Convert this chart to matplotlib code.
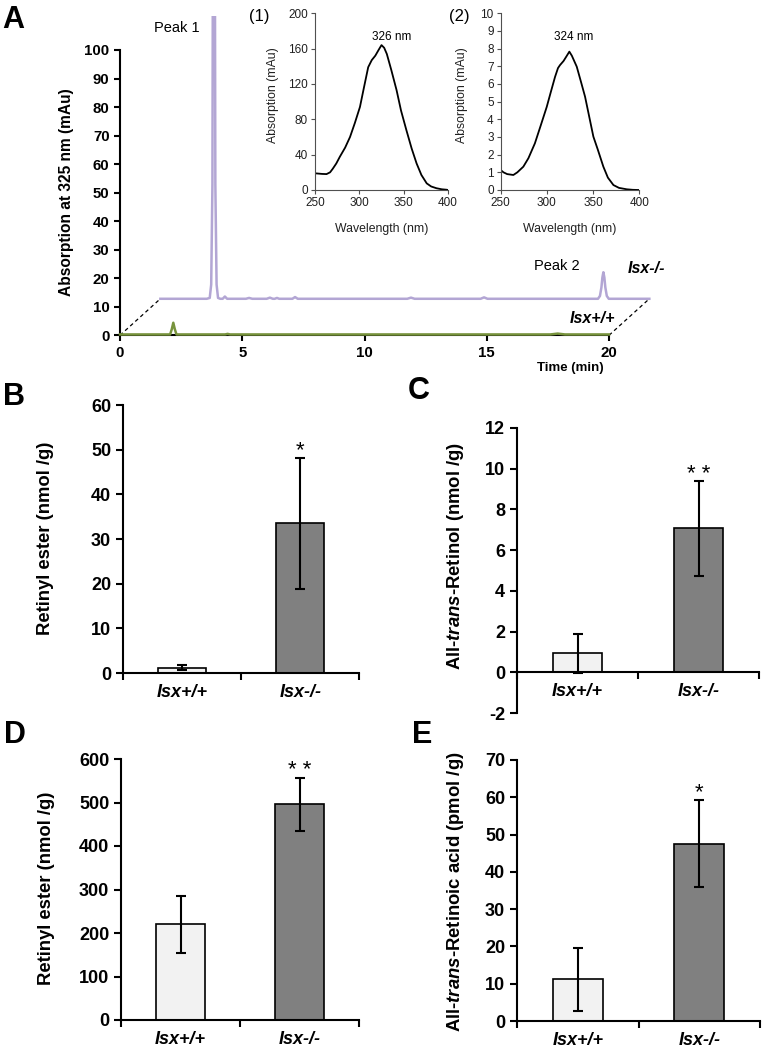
import matplotlib
matplotlib.use("Agg")
import matplotlib.pyplot as plt
import numpy as np

plt.rcParams['font.family'] = ['Liberation Sans', 'DejaVu Sans']
plt.rcParams['axes.unicode_minus'] = False
plt.rcParams['mathtext.fontset'] = 'custom'
plt.rcParams['mathtext.rm'] = 'Liberation Sans:bold'
plt.rcParams['mathtext.bf'] = 'Liberation Sans:bold'
plt.rcParams['mathtext.it'] = 'Liberation Sans:bold:italic'

# ---- data: HPLC traces (time in min, absorbance in mAu) ----
ko_t = [0, 1.9, 2.02, 2.08, 2.13, 2.19, 2.25, 2.30, 2.36, 2.45, 2.55, 2.64, 2.73,
        3.5, 3.63, 3.76, 4.35, 4.48, 4.6, 4.68, 4.77, 4.86, 5.4, 5.51, 5.62,
        10.1, 10.25, 10.4, 13.1, 13.24, 13.38,
        17.9, 17.98, 18.04, 18.08, 18.12, 18.16, 18.20, 18.26, 18.34, 20.0]
ko_y = [0, 0, 0.3, 5, 40, 300, 40, 5, 0.3, 0, 0, 0.8, 0,
        0, 0.3, 0, 0, 0.4, 0, 0, 0.3, 0, 0, 0.6, 0,
        0, 0.4, 0, 0, 0.5, 0,
        0, 1, 4, 7.5, 9.3, 7.5, 4, 1, 0, 0]
wt_t = [0, 2.05, 2.12, 2.18, 2.24, 2.31, 4.3, 4.4, 4.5, 17.6, 17.9, 18.2, 20.0]
wt_y = [0.3, 0.3, 2.2, 4.4, 2.2, 0.3, 0.3, 0.5, 0.3, 0.3, 0.6, 0.3, 0.3]

# ---- data: UV spectra of peak 1 and peak 2 ----
spec1_nm = [250, 258, 263, 267, 270, 274, 278, 284, 289.5, 295, 300.7, 305, 310, 314,
            318, 322, 325, 328, 331, 336, 342, 347, 353, 359, 364.6, 370, 376, 381,
            387, 393, 398.5, 400]
spec1_y = [18.9, 18.2, 18, 20, 24, 30, 37.6, 48, 60, 76, 94, 115, 139, 147,
           152, 159, 164, 161, 154, 136, 113, 90, 68, 47, 30, 17, 7.5, 4,
           2, 0.8, 0.3, 0]
spec2_nm = [250, 253, 257, 263.7, 268, 274.5, 280, 287, 293, 299.8, 304, 308.8, 312,
            314.2, 318, 321, 324.3, 327, 332.3, 337, 341.3, 346, 350.3, 355, 361.1,
            366, 372, 378, 386.4, 393, 400]
spec2_y = [1.13, 1.0, 0.9, 0.85, 1.0, 1.32, 1.8, 2.64, 3.6, 4.7, 5.5, 6.4, 6.9,
           7.07, 7.3, 7.55, 7.83, 7.6, 6.98, 6.1, 5.28, 4.1, 3.02, 2.3, 1.32,
           0.7, 0.28, 0.12, 0.04, 0.01, 0]

# ---- data: bar panels ----
genotypes = ['Isx+/+', 'Isx-/-']
b_mean = [1.2, 33.5]
b_err = [0.6, 14.7]
c_mean = [0.93, 7.07]
c_err = [0.97, 2.32]
d_mean = [220, 496]
d_err = [66, 61]
e_mean = [11.2, 47.6]
e_err = [8.5, 11.7]

W, H = 762, 1051
fig = plt.figure(figsize=(W / 100, H / 100), dpi=100)


def px_axes(left, top, right, bottom):
    return fig.add_axes([left / W, 1 - bottom / H, (right - left) / W, (bottom - top) / H])


def px_text(x, y, s, **kw):
    return fig.text(x / W, 1 - y / H, s, **kw)


# ---------------- panel A: chromatogram ----------------
dx, dy = 1.65, 12.8
ax = px_axes(120, 335.3 - 112 * 2.853, 120 + 23 * 24.45, 335.3)
ax.set_facecolor('none')
ax.plot(np.array(wt_t), np.array(wt_y), color='#77933c', lw=1.8, zorder=4, clip_on=False)
ax.plot(np.array(ko_t) + dx, np.array(ko_y) + dy, color='#b3a6d4', lw=1.8, zorder=4)
ax.plot([0, dx], [0, dy], color='black', lw=0.9, dashes=(3, 2.5))
ax.plot([20, 20 + dx], [0, dy], color='black', lw=0.9, dashes=(3, 2.5))
ax.set_xlim(0, 23)
ax.set_ylim(0, 112)
for s in ['top', 'right']:
    ax.spines[s].set_visible(False)
ax.spines['left'].set_bounds(0, 100)
ax.spines['bottom'].set_bounds(0, 20)
for s in ['left', 'bottom']:
    ax.spines[s].set_linewidth(1.5)
ax.set_xticks([0, 5, 10, 15, 20])
ax.set_yticks(range(0, 101, 10))
ax.tick_params(direction='out', length=4, width=1.5, labelsize=10.8)
for lab in ax.get_xticklabels() + ax.get_yticklabels():
    lab.set_fontweight('bold')
px_text(66, 192.5, 'Absorption at 325 nm (mAu)', rotation=90, ha='center', va='center',
        fontsize=11.2, fontweight='bold')
px_text(570, 368, 'Time (min)', ha='center', va='center', fontsize=9.5, fontweight='bold')
px_text(177, 32, 'Peak 1', ha='center', va='baseline', fontsize=10.5)
px_text(557, 270, 'Peak 2', ha='center', va='baseline', fontsize=10.5)
px_text(628, 273, 'Isx-/-', ha='left', va='baseline', fontsize=11.5,
        fontweight='bold', fontstyle='italic')
px_text(570, 323, 'Isx+/+', ha='left', va='baseline', fontsize=11.5,
        fontweight='bold', fontstyle='italic')


# ---------------- insets: spectra ----------------
def spectrum(box, nm, vals, ymax, ystep, tag, tag_x, peak_txt, peak_x, ylab_x):
    a = px_axes(*box)
    a.set_facecolor('none')
    a.plot(nm, vals, color='black', lw=1.3)
    a.set_xlim(250, 400)
    a.set_ylim(0, ymax)
    a.set_xticks([250, 300, 350, 400])
    a.set_yticks(np.arange(0, ymax + 0.1, ystep))
    for s in ['top', 'right']:
        a.spines[s].set_visible(False)
    for s in ['left', 'bottom']:
        a.spines[s].set_color('#505050')
        a.spines[s].set_linewidth(0.8)
    a.tick_params(direction='out', length=3, width=0.8, color='#505050',
                  labelsize=8.5, pad=2, labelcolor='#202020')
    px_text(ylab_x, 95, 'Absorption (mAu)', rotation=90, ha='center', va='center',
            fontsize=8.8, color='#202020')
    px_text((box[0] + box[2]) / 2, 229, 'Wavelength (nm)', ha='center', va='center',
            fontsize=8.8, color='#202020')
    px_text(tag_x, 21, tag, ha='left', va='baseline', fontsize=12)
    px_text(peak_x, 40.5, peak_txt, ha='center', va='baseline', fontsize=8.5)


spectrum((315, 13.3, 448, 190), spec1_nm, spec1_y, 200, 40, '(1)', 249, '326 nm', 392, 273)
spectrum((500.7, 13.3, 639.3, 190), spec2_nm, spec2_y, 10, 1, '(2)', 449, '324 nm', 573.5, 462)


# ---------------- bar panels ----------------
def bar_panel(box, means, errs, ylim, ystep, ylabel, ylab_x, ylab_y, stars, zero_axis=False):
    a = px_axes(*box)
    a.bar([0.5, 1.5], means, width=0.41, color=['#f2f2f2', '#808080'],
          edgecolor='black', linewidth=1.2, yerr=errs, capsize=3.5,
          error_kw=dict(elinewidth=1.5, capthick=1.5, ecolor='black'))
    a.set_xlim(0, 2)
    a.set_ylim(*ylim)
    for s in ['top', 'right']:
        a.spines[s].set_visible(False)
    for s in ['left', 'bottom']:
        a.spines[s].set_linewidth(1.5)
    if zero_axis:
        a.spines['bottom'].set_position(('data', 0))
    a.set_yticks(np.arange(ylim[0], ylim[1] + 0.001, ystep))
    a.set_xticks([0, 1, 2])
    a.set_xticklabels([])
    a.set_xticks([0.5, 1.5], minor=True)
    a.set_xticklabels(genotypes, minor=True, fontsize=13, fontweight='bold',
                      fontstyle='italic')
    a.tick_params(axis='x', which='minor', length=0, pad=8)
    a.tick_params(axis='x', which='major', direction='out', length=5, width=1.5)
    a.tick_params(axis='y', direction='out', length=5, width=1.5, labelsize=13)
    for lab in a.get_yticklabels():
        lab.set_fontweight('bold')
    for xi, m, e in zip([0.5, 1.5], means, errs):
        if stars.get(xi):
            a.annotate(stars[xi], (xi, m + e), xytext=(0, 1), textcoords='offset points',
                       ha='center', va='baseline', fontsize=16)
    px_text(ylab_x, ylab_y, ylabel, rotation=90, ha='center', va='center',
            fontsize=13.3, fontweight='bold')
    return a


bar_panel((123, 405, 359.3, 673), b_mean, b_err, (0, 60), 10,
          'Retinyl ester (nmol /g)', 46, 538.5, {1.5: '*'})
bar_panel((517, 428, 759, 713), c_mean, c_err, (-2, 12), 2,
          r'All-$\mathit{trans}$-Retinol (nmol /g)', 455, 556, {1.5: '* *'}, zero_axis=True)
bar_panel((121, 759, 359, 1020), d_mean, d_err, (0, 600), 100,
          'Retinyl ester (nmol /g)', 47, 888, {1.5: '* *'})
bar_panel((517, 760, 760, 1021), e_mean, e_err, (0, 70), 10,
          r'All-$\mathit{trans}$-Retinoic acid (pmol /g)', 455, 892, {1.5: '*'})

# panel letters
for letter, x, y in [('A', 2, 28), ('B', 3, 405), ('C', 408, 399), ('D', 4, 743), ('E', 412, 743)]:
    px_text(x, y, letter, ha='left', va='baseline', fontsize=22, fontweight='bold')

fig.savefig('out.png', dpi=100)
